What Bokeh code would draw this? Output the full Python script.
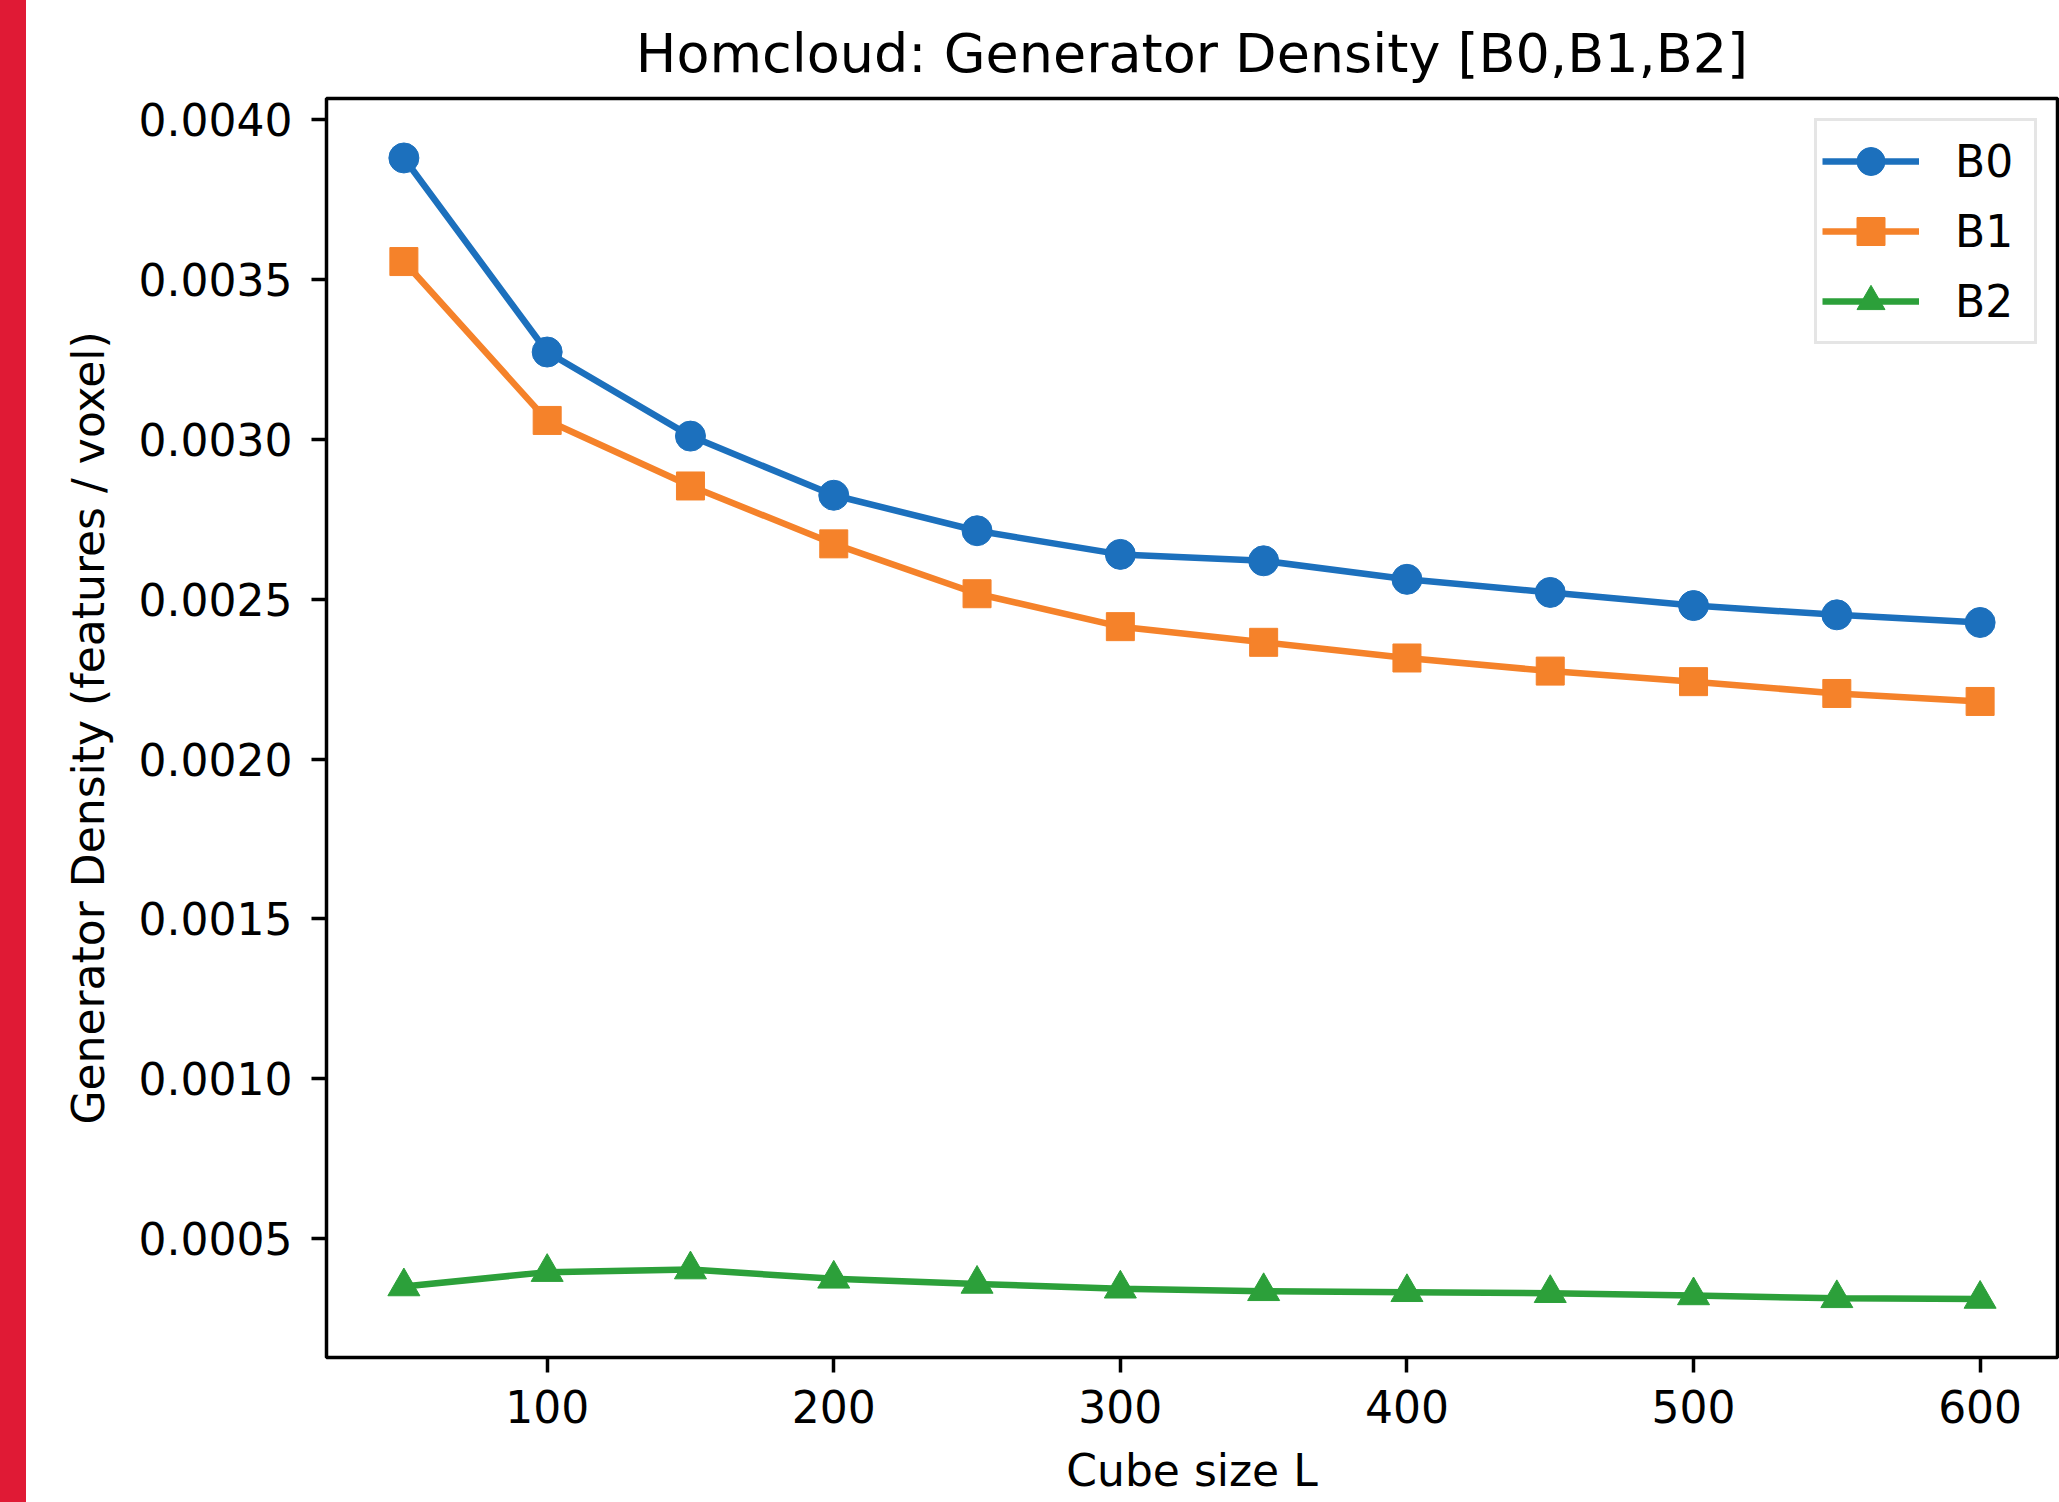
from bokeh.plotting import figure
from bokeh.models import Range1d, FixedTicker, PrintfTickFormatter, Legend, LegendItem, Div
from bokeh.layouts import row
from bokeh.embed import file_html
from bokeh.resources import INLINE

# ---- data ----
L = [50, 100, 150, 200, 250, 300, 350, 400, 450, 500, 550, 600]
b0 = [0.003880, 0.003273, 0.003010, 0.002825, 0.002714, 0.002640,
      0.002620, 0.002562, 0.002521, 0.002480, 0.002451, 0.002427]
b1 = [0.003556, 0.003059, 0.002854, 0.002673, 0.002517, 0.002414,
      0.002365, 0.002316, 0.002275, 0.002242, 0.002205, 0.002180]
b2 = [0.000350, 0.000395, 0.000403, 0.000374, 0.000358, 0.000343,
      0.000335, 0.000332, 0.000329, 0.000322, 0.000313, 0.000311]
series_names = ["B0", "B1", "B2"]
x_ticks = [100, 200, 300, 400, 500, 600]
y_ticks = [0.0005, 0.0010, 0.0015, 0.0020, 0.0025, 0.0030, 0.0035, 0.0040]

colors = ["#1c70bd", "#f5822a", "#2ca03a"]
markers = ["circle", "square", "triangle"]
msizes = [30, 28, 32]
FONT = "DejaVu Sans"

p = figure(width=2033, height=1502, output_backend="svg", toolbar_location=None,
           x_range=Range1d(23, 627), y_range=Range1d(0.000128, 0.004066),
           min_border_left=300, min_border_right=2, min_border_top=98,
           min_border_bottom=145,
           title="Homcloud: Generator Density [B0,B1,B2]")

p.title.align = "center"
p.title.text_font = FONT
p.title.text_font_size = "54px"
p.title.text_font_style = "normal"
p.title.text_color = "black"
p.title.standoff = 27

p.xgrid.visible = False
p.ygrid.visible = False
p.outline_line_color = "black"
p.outline_line_width = 3.5
p.outline_line_alpha = 1.0
p.background_fill_color = "white"
p.border_fill_color = "white"

p.xaxis.ticker = FixedTicker(ticks=x_ticks)
p.yaxis.ticker = FixedTicker(ticks=y_ticks)
p.yaxis.formatter = PrintfTickFormatter(format="%.4f")
p.xaxis.axis_label = "Cube size L"
p.yaxis.axis_label = "Generator Density (features / voxel)"

for ax in (p.xaxis, p.yaxis):
    ax.axis_line_color = None
    ax.major_tick_line_color = "black"
    ax.major_tick_line_width = 3.5
    ax.major_tick_out = 15
    ax.major_tick_in = 0
    ax.minor_tick_line_color = None
    ax.major_label_text_font = FONT
    ax.major_label_text_font_size = "44px"
    ax.major_label_text_color = "black"
    ax.axis_label_text_font = FONT
    ax.axis_label_text_font_size = "44px"
    ax.axis_label_text_font_style = "normal"
    ax.axis_label_text_color = "black"

p.xaxis.major_label_standoff = 17
p.yaxis.major_label_standoff = 19
p.xaxis.axis_label_standoff = 19
p.yaxis.axis_label_standoff = 22

items = []
for name, ys, c, m, s in zip(series_names, [b0, b1, b2], colors, markers, msizes):
    r1 = p.line(L, ys, line_color=c, line_width=6.5)
    r2 = p.scatter(L, ys, marker=m, size=s, fill_color=c, line_color=c, line_width=1)
    items.append(LegendItem(label=name, renderers=[r1, r2]))

legend = Legend(items=items, location="top_right", margin=20, padding=5,
                glyph_width=97, glyph_height=70, spacing=0, label_standoff=36,
                label_width=74, label_text_font=FONT, label_text_font_size="44px",
                label_text_color="black", border_line_color="#cccccc",
                border_line_width=3, background_fill_color="white",
                background_fill_alpha=0.8)
p.add_layout(legend)

bar = Div(text="", width=26, height=1502, margin=0,
          styles={"background-color": "#e01a35"})

layout = row(bar, p)
open("out.html", "w").write(file_html(layout, INLINE))
